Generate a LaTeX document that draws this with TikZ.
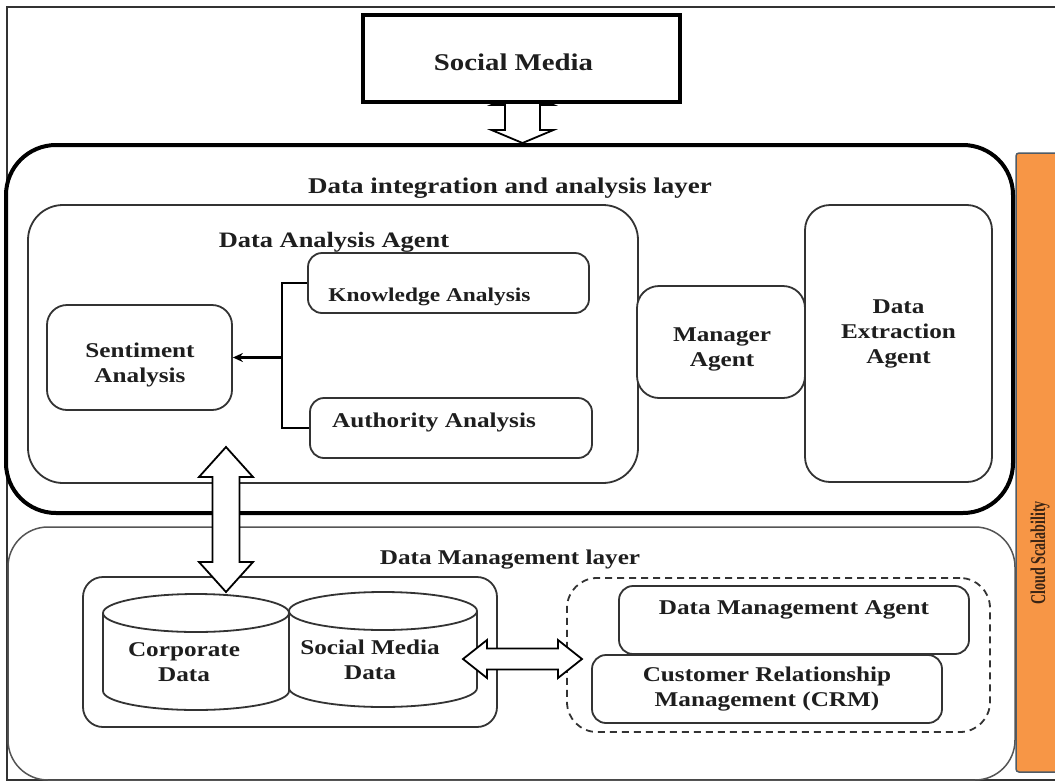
\documentclass[tikz,border=0pt]{standalone}
\usepackage{fontspec}
\setmainfont[FakeStretch=1.2]{Liberation Serif}
\newfontfamily\sidefont[FakeStretch=0.67]{Liberation Serif}
\usetikzlibrary{calc,arrows.meta,backgrounds}

\definecolor{ink}{HTML}{1E1E1E}
\definecolor{edge}{HTML}{333333}
\definecolor{layeredge}{HTML}{555555}
\definecolor{cloudorange}{HTML}{F79646}
\definecolor{cloudedge}{HTML}{4F5B66}
\definecolor{cloudtext}{HTML}{3A2414}

% hollow double block arrow, vertical: top tip, bottom tip, head half width, shaft half width, head length
\newcommand{\dArrowV}[5]{%
  \draw[blockarrow] (#1) -- ++(#3,#5) -- ++({-#3+#4},0) -- ($(#2)+(#4,-#5)$)
    -- ++({#3-#4},0) -- (#2) -- ++(-#3,-#5) -- ++({#3-#4},0)
    -- ($(#1)+(-#4,#5)$) -- ++({-#3+#4},0) -- cycle;}
% hollow double block arrow, horizontal: left tip, right tip, head half width, shaft half width, head length
\newcommand{\dArrowH}[5]{%
  \draw[blockarrow] (#1) -- ++(#5,-#3) -- ++(0,{#3-#4}) -- ($(#2)+(-#5,-#4)$)
    -- ++(0,{-#3+#4}) -- (#2) -- ++(-#5,#3) -- ++(0,{-#3+#4})
    -- ($(#1)+(#5,#4)$) -- ++(0,{#3-#4}) -- cycle;}
% database drum drawn round a named node: node, half width, ellipse half height
\newcommand{\dbDrum}[3]{%
  \draw[drum] ($(#1.north west)+(0,#3)$) -- ($(#1.south west)+(0,-#3)$)
    arc[start angle=180, end angle=360, x radius=#2pt, y radius=#3pt]
    -- ($(#1.north east)+(0,#3)$)
    arc[start angle=0, end angle=180, x radius=#2pt, y radius=#3pt] -- cycle;
  \draw[drum, fill=none] ($(#1.north west)+(0,#3)$)
    arc[start angle=180, end angle=360, x radius=#2pt, y radius=#3pt];}

\begin{document}
\begin{tikzpicture}[x=1pt,y=-1pt,
  font=\bfseries\fontsize{21}{25}\selectfont, text=ink,
  box/.style={draw=edge, line width=1.8pt, fill=white, rounded corners=#1,
    inner sep=0pt, align=center},
  box/.default=14pt,
  drum/.style={draw=edge, line width=1.8pt, fill=white},
  blockarrow/.style={draw=black, line width=1.8pt, fill=white, line join=miter},
  tree/.style={draw=black, line width=2.5pt},
  ml/.style={align=center}]

\useasboundingbox (0,0) rectangle (1055,782);
\begin{scope}
\clip (0,0) rectangle (1055,782);

% outer frame
\draw[draw=edge, line width=1.5pt] (7,7) rectangle (1075,780);

% cloud scalability bar
\node[draw=cloudedge, fill=cloudorange, line width=1.5pt, rounded corners=3pt,
  minimum width=50pt, minimum height=619pt, inner sep=0pt] (cloud) at (1041,462.5) {};
\node[rotate=90, font=\sidefont\bfseries\fontsize{21}{24}\selectfont, text=cloudtext]
  (cloudlbl) at (1040,553) {Cloud Scalability};

% layers
\node[draw=layeredge, line width=1.5pt, rounded corners=40pt, minimum width=1007pt,
  minimum height=253pt, inner sep=0pt] (dml) at (511.5,653.5) {};
\node[draw=black, line width=4pt, rounded corners=50pt, minimum width=1007pt,
  minimum height=368pt, inner sep=0pt] (dil) at (509.5,329) {};
\node[font=\bfseries\fontsize{22.5}{26}\selectfont] (diltitle) at (510,188)
  {Data integration and analysis layer};
\node (dmltitle) at (510,560) {Data Management layer};

% social media source
\node[draw=black, line width=4pt, fill=white, minimum width=317pt, minimum height=87pt,
  inner sep=0pt,
  label={[font=\bfseries\fontsize{24}{28}\selectfont, shift={(-8,4)}]center:Social Media}]
  (sm) at (521.5,58.5) {};

% data analysis agent
\node[box=35pt, minimum width=610pt, minimum height=278pt,
  label={[font=\bfseries\fontsize{22}{26}\selectfont, shift={(1,-102)}]center:Data Analysis Agent}]
  (daa) at (333,344) {};
\node[box, minimum width=281pt, minimum height=60pt,
  label={[font=\bfseries\fontsize{19.5}{23}\selectfont, shift={(-19,14)}]center:Knowledge Analysis}]
  (ka) at (448.5,283) {};
\node[box, minimum width=282pt, minimum height=60pt,
  label={[shift={(-17,-6)}]center:Authority Analysis}]
  (aa) at (451,428) {};
\node[box=20pt, minimum width=185pt, minimum height=105pt,
  label={[ml, shift={(0.5,7)}]center:Sentiment\\Analysis}]
  (se) at (139.5,357.5) {};

% manager and extraction agents
\node[box=22pt, minimum width=168pt, minimum height=112pt,
  label={[ml, shift={(1,7)}]center:Manager\\Agent}]
  (ma) at (721,342) {};
\node[box=25pt, minimum width=187pt, minimum height=277pt,
  label={[ml, shift={(0,-10)}]center:Data\\Extraction\\Agent}]
  (dea) at (898.5,343.5) {};

% analysis tree
\coordinate (junc) at ($(ka.west)+(-25,0)$);
\draw[tree] (ka.west) -- (junc) |- (aa.west);
\draw[tree, -{Stealth[length=10pt,width=9pt]}] (junc |- se.east) -- (se.east);

% data stores
\node[box=20pt, minimum width=414pt, minimum height=150pt] (stores) at (290,652) {};
\node[inner sep=0pt, outer sep=0pt, minimum width=186pt, minimum height=116pt]
  (cd) at (196,652) {};
\node[inner sep=0pt, outer sep=0pt, minimum width=188pt, minimum height=115pt]
  (smd) at (383,649.5) {};
\dbDrum{cd}{93}{19}
\dbDrum{smd}{94}{19}
\node[ml] (cdlbl) at ($(cd.center)+(-12,10.5)$) {Corporate\\Data};
\node[ml] (smdlbl) at ($(smd.center)+(-13,10.5)$) {Social Media\\Data};

% management agents
\node[draw=edge, line width=1.8pt, dash pattern=on 7pt off 5pt, rounded corners=30pt,
  minimum width=423pt, minimum height=154pt, inner sep=0pt] (mgmt) at (778.5,655) {};
\node[box, minimum width=350pt, minimum height=68pt,
  label={[shift={(0,-10)}]center:Data Management Agent}] (dma) at (794,620) {};
\node[box, minimum width=350pt, minimum height=68pt]
  (crm) at (767,689) {Customer Relationship\\Management (CRM)};

% block arrows
\begin{scope}[on background layer]
\coordinate (a1t) at ($(sm.south)+(1,-12)$);
\coordinate (a1b) at (a1t |- dil.north);
\dArrowV{a1t}{a1b}{31}{17.5}{13}
\end{scope}

\coordinate (a2t) at (226,447);
\coordinate (a2b) at (226,592);
\dArrowV{a2t}{a2b}{27}{13.5}{30}

\coordinate (a3l) at (463,659);
\coordinate (a3r) at (582,659);
\dArrowH{a3l}{a3r}{19}{10.5}{24}

\end{scope}
\end{tikzpicture}
\end{document}
